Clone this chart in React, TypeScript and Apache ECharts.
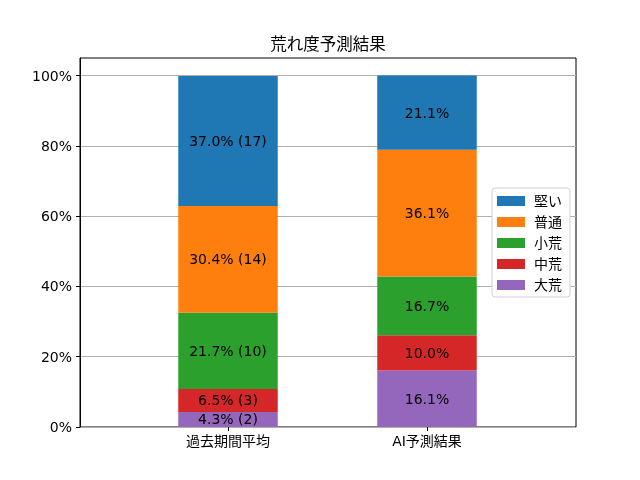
import React, { useEffect, useRef } from "react";
import * as echarts from "echarts";

const titleText = "荒れ度予測結果";
const categories = ["過去期間平均", "AI予測結果"];
const seriesNames = ["大荒", "中荒", "小荒", "普通", "堅い"];
const colors = ["#9467bd", "#d62728", "#2ca02c", "#ff7f0e", "#1f77b4"];
// percentages per series: [過去期間平均, AI予測結果]
const pctDaiko = [4.3, 16.1];
const pctChuko = [6.5, 10.0];
const pctShoko = [21.7, 16.7];
const pctFutsu = [30.4, 36.1];
const pctKatai = [37.0, 21.1];
// counts for past average only
const cntDaiko = [2];
const cntChuko = [3];
const cntShoko = [10];
const cntFutsu = [14];
const cntKatai = [17];
const yTicks = [0, 20, 40, 60, 80, 100];

const FONT = "DejaVu Sans, Noto Sans CJK JP, sans-serif";

export default function App() {
  const ref = useRef<HTMLDivElement>(null);
  useEffect(() => {
    if (!ref.current) return;
    const chart = echarts.init(ref.current, null, { renderer: "svg" });
    const pcts = [pctDaiko, pctChuko, pctShoko, pctFutsu, pctKatai];
    const cnts = [cntDaiko, cntChuko, cntShoko, cntFutsu, cntKatai];
    const series = seriesNames.map((name, si) => ({
      name,
      type: "bar",
      stack: "total",
      xAxisIndex: 1,
      yAxisIndex: 1,
      barWidth: 99.5,
      itemStyle: { color: colors[si] },
      label: {
        show: true,
        position: "inside",
        color: "#000",
        fontSize: 14,
        fontFamily: FONT,
        formatter: (p: any) => {
          const ci = p.dataIndex;
          const v = pcts[si][ci].toFixed(1) + "%";
          return ci === 0 ? `${v} (${cnts[si][0]})` : v;
        },
      },
      data: pcts[si],
    }));
    chart.setOption({
      animation: false,
      textStyle: { fontFamily: FONT },
      graphic: [
        {
          type: "text",
          x: 328,
          y: 44,
          style: {
            text: titleText,
            x: 0,
            y: 0,
            align: "center",
            verticalAlign: "middle",
            fontSize: 16.5,
            fill: "#000",
            fontFamily: FONT,
          },
        },
      ],
      grid: [
        {
          left: 80,
          right: 64,
          top: 58,
          bottom: 53,
          show: true,
          borderColor: "#000",
          borderWidth: 1,
          backgroundColor: "transparent",
        },
        {
          left: 128.5,
          right: 113.5,
          top: 58,
          bottom: 53,
        },
      ],
      legend: {
        orient: "vertical",
        left: 492,
        top: 188,
        data: [...seriesNames].reverse(),
        itemWidth: 28,
        itemHeight: 10,
        itemGap: 7,
        padding: [6, 8, 5, 5],
        backgroundColor: "#fff",
        borderColor: "#d0d0d0",
        borderWidth: 1,
        borderRadius: 3,
        icon: "rect",
        textStyle: { fontSize: 14, color: "#000", fontFamily: FONT, padding: [0, 0, 0, 4] },
      },
      xAxis: [
        {
          gridIndex: 0,
          type: "value",
          min: 0,
          max: 1,
          show: false,
        },
        {
          gridIndex: 1,
          type: "category",
          data: categories,
          axisLine: { show: false },
          axisTick: { show: true, alignWithLabel: true, length: 4, lineStyle: { color: "#000" } },
          axisLabel: { color: "#000", fontSize: 14, fontFamily: FONT, margin: 7 },
          splitLine: { show: false },
        },
      ],
      yAxis: [
        {
          gridIndex: 0,
          type: "value",
          min: 0,
          max: 105,
          interval: 20,
          splitLine: { show: true, lineStyle: { color: "#b0b0b0", width: 1 } },
          axisLine: { show: true, onZero: false, lineStyle: { color: "#000" } },
          axisTick: { show: true, customValues: yTicks, length: 4, lineStyle: { color: "#000" } },
          axisLabel: {
            customValues: yTicks,
            color: "#000",
            fontSize: 14,
            fontFamily: FONT,
            margin: 8,
            formatter: (v: number) => `${v}%`,
          },
        },
        {
          gridIndex: 1,
          type: "value",
          min: 0,
          max: 105,
          show: false,
        },
      ],
      series,
    });
    return () => chart.dispose();
  }, []);
  return (
    <div
      ref={ref}
      style={{ position: "fixed", left: 0, top: 0, width: 640, height: 480 }}
    />
  );
}
